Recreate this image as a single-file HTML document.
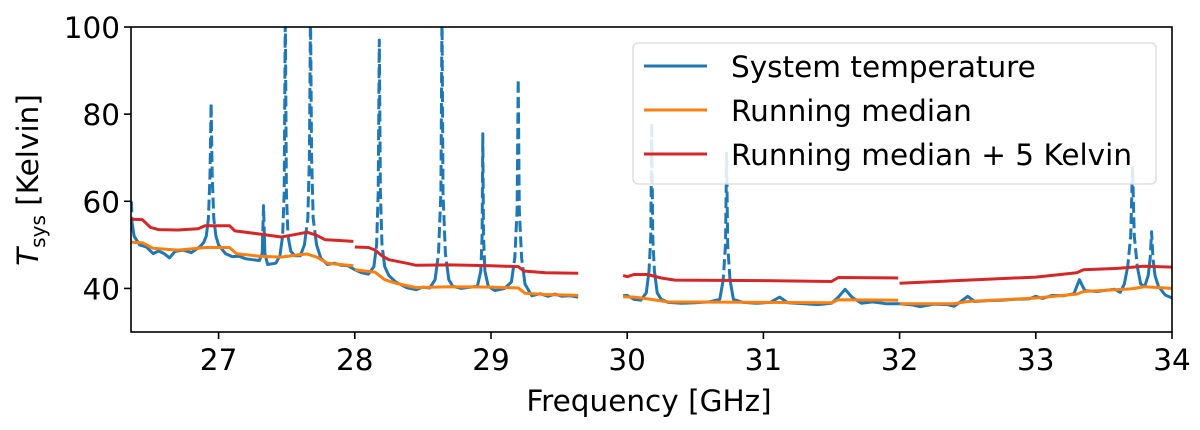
<!DOCTYPE html>
<html><head><meta charset="utf-8"><style>
html,body{margin:0;padding:0;background:#fff;}
svg{display:block;font-family:"DejaVu Sans","Liberation Sans",sans-serif;}
</style></head><body>
<svg id="chart" width="1200" height="430" viewBox="0 0 1200 430" xmlns="http://www.w3.org/2000/svg">
<defs>
<clipPath id="axclip"><rect x="131" y="27" width="1041" height="305"/></clipPath>
<clipPath id="above"><polygon id="abovePoly" points=""/></clipPath>
<clipPath id="below"><polygon id="belowPoly" points=""/></clipPath>
</defs>
<g id="marks" clip-path="url(#axclip)"></g>
<rect x="131" y="27" width="1041" height="305" fill="none" stroke="#000" stroke-width="1.6"/>
<g id="ticks"></g>
<text x="649" y="411" font-size="29.5" text-anchor="middle">Frequency [GHz]</text>
<text transform="translate(38,180) rotate(-90)" font-size="29.5" text-anchor="middle"><tspan font-style="italic">T</tspan><tspan font-size="20" dy="7">sys</tspan><tspan dy="-7"> [Kelvin]</tspan></text>
<g>
<rect x="633" y="43" width="523" height="141" rx="5" fill="#fff" fill-opacity="0.85" stroke="#d9d9d9" stroke-width="1.3"/>
<line x1="644" y1="66" x2="707" y2="66" stroke="#1f77b4" stroke-width="3"/>
<text x="731" y="77" font-size="29.5">System temperature</text>
<line x1="644" y1="110" x2="707" y2="110" stroke="#ff7f0e" stroke-width="3"/>
<text x="731" y="121" font-size="29.5">Running median</text>
<line x1="644" y1="154" x2="707" y2="154" stroke="#d62728" stroke-width="3"/>
<text x="731" y="165" font-size="29.5">Running median + 5 Kelvin</text>
</g>
</svg>
<script>
const xTicks = [27,28,29,30,31,32,33,34];
const yTicks = [40,60,80,100];
const systemTemp = [[26.36,60],[26.365,55],[26.38,52],[26.42,50],[26.47,49.5],[26.52,48],[26.56,48.6],[26.6,48],[26.64,47],[26.68,48.5],[26.74,48.8],[26.8,48.2],[26.86,49.5],[26.89,50.5],[26.91,52],[26.925,56],[26.937,66],[26.945,82.5],[26.953,66],[26.965,56],[26.98,52],[27.0,50],[27.05,48],[27.1,47.3],[27.15,47.4],[27.2,46.8],[27.25,46.6],[27.3,46.4],[27.32,48],[27.33,59],[27.34,48],[27.36,45.5],[27.42,45.8],[27.45,47.5],[27.47,52],[27.482,62],[27.49,104],[27.498,62],[27.51,52],[27.53,48.5],[27.56,47.5],[27.6,47.5],[27.63,50],[27.655,56],[27.667,70],[27.675,104],[27.683,70],[27.695,56],[27.72,50],[27.75,47],[27.8,45.5],[27.85,45.8],[27.9,45.3],[27.95,45.2],[28.0,44.3],[28.05,43.6],[28.1,43.3],[28.14,45],[28.16,50],[28.172,62],[28.18,97],[28.188,62],[28.2,50],[28.22,45],[28.25,43],[28.3,41.5],[28.38,40.2],[28.45,39.7],[28.5,40.3],[28.55,40.1],[28.59,42],[28.615,48],[28.632,62],[28.64,104],[28.648,62],[28.665,48],[28.69,42],[28.72,40.5],[28.78,40],[28.85,40.3],[28.9,40.5],[28.925,44],[28.935,52],[28.94,75.5],[28.945,52],[28.955,44],[28.98,40.5],[29.03,39.5],[29.1,40],[29.15,41.5],[29.175,47],[29.192,58],[29.2,88],[29.208,58],[29.225,47],[29.25,41],[29.3,38.3],[29.36,38.8],[29.42,38.2],[29.47,38.7],[29.52,38.2],[29.58,38.3],[29.64,38],null,
[29.97,38.3],[30.0,38.4],[30.05,37.5],[30.1,37.3],[30.14,39],[30.16,44],[30.173,52],[30.18,78],[30.187,52],[30.2,44],[30.22,39],[30.25,37.5],[30.3,36.8],[30.4,36.6],[30.5,36.7],[30.6,36.9],[30.68,37.5],[30.705,42],[30.722,50],[30.73,71],[30.738,50],[30.755,42],[30.78,37.5],[30.85,36.8],[30.95,36.6],[31.05,36.8],[31.12,38],[31.18,36.7],[31.3,36.5],[31.4,36.3],[31.5,36.6],[31.55,38],[31.6,39.8],[31.65,38],[31.72,36.6],[31.8,36.9],[31.9,36.5],[32.0,36.5],[32.1,36.2],[32.15,35.8],[32.25,36.4],[32.35,36.3],[32.4,35.9],[32.45,37],[32.5,38.2],[32.55,37],[32.65,37.2],[32.75,37.3],[32.85,37.5],[32.95,37.6],[33.0,38.2],[33.05,37.7],[33.12,38.4],[33.2,38.3],[33.28,38.8],[33.32,42],[33.36,39.5],[33.45,39.3],[33.52,39.6],[33.58,39.8],[33.62,39.1],[33.65,41],[33.675,45],[33.697,52],[33.71,68],[33.723,52],[33.745,45],[33.77,41],[33.8,40.5],[33.825,43],[33.84,47],[33.85,53],[33.86,47],[33.875,43],[33.9,40.5],[33.95,38.5],[34.0,37.8]];
const runningMedian = [[26.36,50.6],[26.44,50.5],[26.52,49.2],[26.7,48.8],[26.85,49.2],[26.9,49.4],[27.08,49.4],[27.13,48],[27.3,47.4],[27.46,47.2],[27.58,47.7],[27.65,47.9],[27.72,47.2],[27.8,45.8],[27.99,45.2],null,[28.0,44.3],[28.15,43.7],[28.22,42],[28.3,41.2],[28.45,40.2],[28.7,40.4],[29.0,40.3],[29.2,40.1],[29.25,38.9],[29.4,38.6],[29.64,38.4],null,[29.97,38.1],[30.05,38.0],[30.15,37.6],[30.3,36.9],[31.0,36.8],[31.5,36.7],[31.55,37.4],[31.99,37.3],null,[32.0,36.5],[32.4,36.5],[32.5,37],[33.0,37.8],[33.3,38.7],[33.35,39.3],[33.7,39.9],[33.8,40.4],[34.0,40]];
const medianPlus5 = [[26.36,55.9],[26.44,55.8],[26.5,54],[26.56,53.5],[26.7,53.4],[26.85,53.7],[26.9,54.4],[27.08,54.4],[27.12,53.2],[27.3,52.5],[27.46,51.8],[27.55,52.3],[27.65,52.9],[27.72,52.2],[27.78,51.2],[27.99,50.8],null,[28.0,49.5],[28.1,49.4],[28.15,48.8],[28.2,47.5],[28.25,46.6],[28.38,45.8],[28.45,45.3],[28.7,45.4],[29.0,45.2],[29.2,45],[29.24,44],[29.4,43.6],[29.64,43.5],null,[29.97,43],[30.0,42.7],[30.05,43.2],[30.15,43.2],[30.25,42.4],[30.35,41.9],[31.0,41.8],[31.5,41.6],[31.55,42.5],[31.99,42.4],null,[32.0,41.2],[32.5,41.9],[33.0,42.6],[33.3,43.6],[33.35,44.3],[33.6,44.6],[33.8,45.1],[34.0,44.9]];

const X0=131,X1=1172,Y0=332,Y1=27,XMIN=26.357,XMAX=34,YMIN=30,YMAX=100;
function sx(v){return X0+(v-XMIN)/(XMAX-XMIN)*(X1-X0);}
function sy(v){return Y0-(v-YMIN)/(YMAX-YMIN)*(Y0-Y1);}
const NS="http://www.w3.org/2000/svg";
function pathD(arr){let d="",pen=false;for(const p of arr){if(!p){pen=false;continue;}d+=(pen?"L":"M")+sx(p[0]).toFixed(1)+","+sy(p[1]).toFixed(1);pen=true;}return d;}
const marks=document.getElementById('marks');
const thr=medianPlus5.filter(p=>p).map(p=>sx(p[0]).toFixed(1)+","+sy(p[1]).toFixed(1));
const first=medianPlus5[0], last=medianPlus5[medianPlus5.length-1];
document.getElementById('abovePoly').setAttribute('points',"0,"+sy(first[1]).toFixed(1)+" "+thr.join(" ")+" 1200,"+sy(last[1]).toFixed(1)+" 1200,0 0,0");
document.getElementById('belowPoly').setAttribute('points',"0,"+sy(first[1]).toFixed(1)+" "+thr.join(" ")+" 1200,"+sy(last[1]).toFixed(1)+" 1200,430 0,430");
function addPath(arr,color,name,clip,dash){
  const p=document.createElementNS(NS,'path');
  p.setAttribute('d',pathD(arr));p.setAttribute('fill','none');p.setAttribute('stroke',color);
  p.setAttribute('stroke-width','3');p.setAttribute('stroke-linejoin','round');
  if(clip)p.setAttribute('clip-path','url(#'+clip+')');
  if(dash)p.setAttribute('stroke-dasharray',dash);
  
  
  marks.appendChild(p);
}
addPath(systemTemp,'#1f77b4','system-temperature-line','below',null);
addPath(systemTemp,'#1f77b4','system-temperature-flagged-dashed','above','11 4.5');
addPath(runningMedian,'#ff7f0e','running-median-line',null,null);
addPath(medianPlus5,'#d62728','median-plus-5-line',null,null);
const tg=document.getElementById('ticks');
for(const t of xTicks){
  const l=document.createElementNS(NS,'line');const x=sx(t);
  l.setAttribute('x1',x);l.setAttribute('x2',x);l.setAttribute('y1',Y0);l.setAttribute('y2',Y0+7);l.setAttribute('stroke','#000');l.setAttribute('stroke-width','1.6');
  
  
  tg.appendChild(l);
  const tx=document.createElementNS(NS,'text');tx.setAttribute('x',x);tx.setAttribute('y',Y0+38);tx.setAttribute('font-size','29.5');tx.setAttribute('text-anchor','middle');tx.textContent=t;
  
  
  tg.appendChild(tx);
}
for(const t of yTicks){
  const l=document.createElementNS(NS,'line');const y=sy(t);
  l.setAttribute('x1',X0-7);l.setAttribute('x2',X0);l.setAttribute('y1',y);l.setAttribute('y2',y);l.setAttribute('stroke','#000');l.setAttribute('stroke-width','1.6');
  
  
  tg.appendChild(l);
  const tx=document.createElementNS(NS,'text');tx.setAttribute('x',X0-11);tx.setAttribute('y',y+11);tx.setAttribute('font-size','29.5');tx.setAttribute('text-anchor','end');tx.textContent=t;
  
  
  tg.appendChild(tx);
}
</script>
</body></html>
